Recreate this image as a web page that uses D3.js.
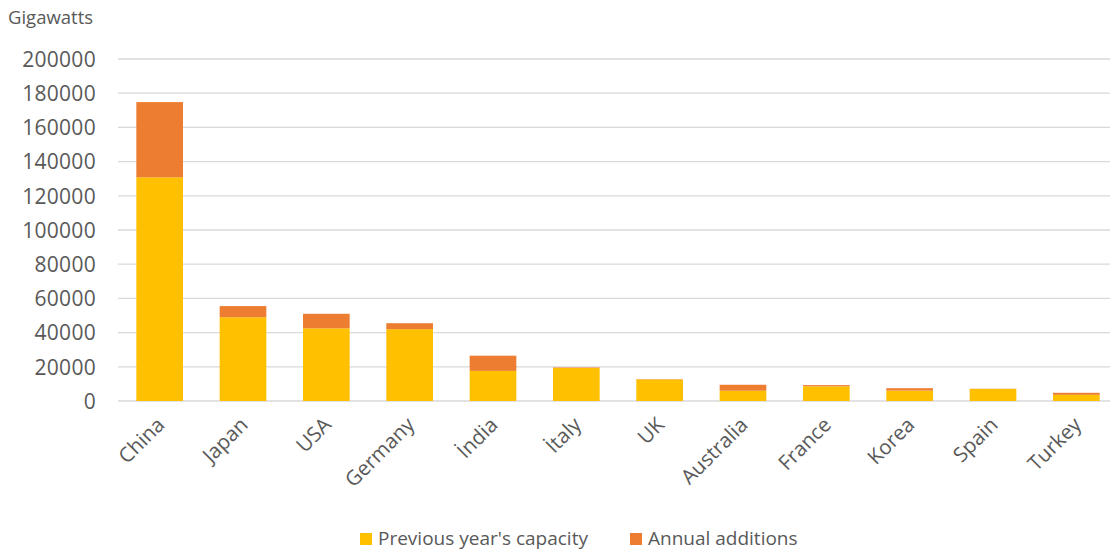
<!DOCTYPE html>
<html><head><meta charset="utf-8">
<script src="https://cdn.jsdelivr.net/npm/d3@7"></script>
<style>body{margin:0;background:#fff;} text{font-family:"Open Sans",sans-serif;fill:#595959;}</style>
</head><body>
<svg id="c" width="1110" height="551"></svg>
<script>
const categories = ["China","Japan","USA","Germany","İndia","İtaly","UK","Australia","France","Korea","Spain","Turkey"];
const previousCapacity = [130800,49000,42500,42000,17600,19300,12600,6000,8600,6100,7000,3600];
const annualAdditions = [44000,6500,8500,3500,8900,300,200,3500,700,1400,150,1200];
const yTicks = [0,20000,40000,60000,80000,100000,120000,140000,160000,180000,200000];
const seriesNames = ["Previous year's capacity","Annual additions"];
const colors = ["#FFC000","#ED7D31"];

const svg = d3.select("#c");
const x = d3.scaleBand().domain(categories).range([118,1118]).paddingInner(0.44).paddingOuter(0.22);
const y = d3.scaleLinear().domain([0,200000]).range([401,59]);

// gridlines
svg.append("g").selectAll("line").data(yTicks).join("line")
  .attr("x1",118).attr("x2",1110).attr("y1",d=>y(d)).attr("y2",d=>y(d))
  .attr("stroke","#d9d9d9").attr("stroke-width",1.3);

// y labels
const yAxis = d3.axisLeft(y).tickValues(yTicks).tickFormat(d3.format("d")).tickSize(0).tickPadding(0);
const ga = svg.append("g").attr("transform","translate(96,0)").call(yAxis);
ga.select(".domain").remove();
ga.selectAll("text").style("font-size","21px").style("font-family","'Open Sans',sans-serif")
  .attr("fill","#595959").attr("dy","0.35em").attr("letter-spacing","0.3px");

const rows = categories.map((c,i)=>({c, p:previousCapacity[i], a:annualAdditions[i]}));
const stack = d3.stack().keys(["p","a"])(rows);
svg.append("g").selectAll("g").data(stack).join("g").attr("fill",(d,i)=>colors[i])
  .selectAll("rect").data(d=>d).join("rect")
  .attr("x",d=>x(d.data.c)).attr("width",x.bandwidth())
  .attr("y",d=>y(d[1])).attr("height",d=>y(d[0])-y(d[1]));

// x labels
svg.append("g").selectAll("text").data(categories).join("text")
  .attr("transform",d=>`translate(${x(d)+x.bandwidth()/2+1},${421}) rotate(-45)`)
  .attr("text-anchor","end").attr("dy","0.35em").style("font-size","20.5px").text(d=>d);

svg.append("text").attr("x",8).attr("y",24).style("font-size","18.5px").text("Gigawatts");

// legend
const leg = [{x:360,n:seriesNames[0],c:colors[0]},{x:630,n:seriesNames[1],c:colors[1]}];
const lg = svg.append("g").selectAll("g").data(leg).join("g").attr("transform",d=>`translate(${d.x},538)`);
lg.append("rect").attr("x",0).attr("y",-5).attr("width",12).attr("height",12).attr("fill",d=>d.c);
lg.append("text").attr("x",18).attr("dy","0.35em").style("font-size","19px").text(d=>d.n);
</script>
</body></html>
